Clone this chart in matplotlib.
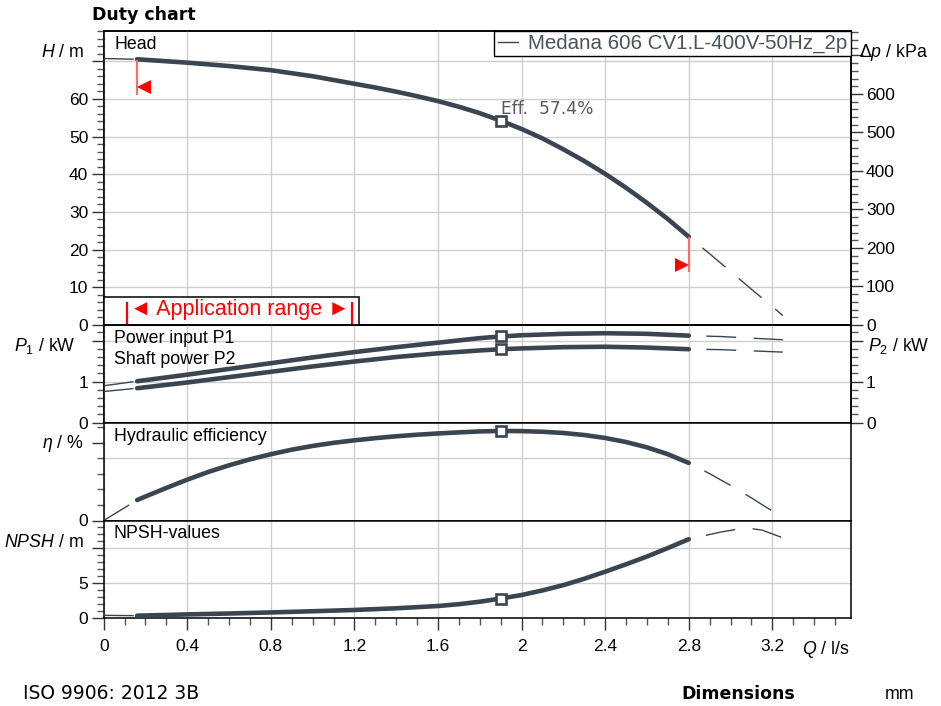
import matplotlib
matplotlib.use('Agg')
import matplotlib.pyplot as plt
from matplotlib.lines import Line2D
from matplotlib.patches import Rectangle
from matplotlib.ticker import MultipleLocator, FixedLocator, FuncFormatter
from matplotlib.transforms import Affine2D, offset_copy

plt.rcParams['font.family'] = ['Liberation Sans', 'DejaVu Sans']
plt.rcParams['font.size'] = 12.5
plt.rcParams['mathtext.fontset'] = 'custom'
plt.rcParams['mathtext.rm'] = 'Liberation Sans'
plt.rcParams['mathtext.it'] = 'Liberation Sans:italic'
plt.rcParams['mathtext.bf'] = 'Liberation Sans:bold'
plt.rcParams['lines.scale_dashes'] = False

# ---- data ----
q_head = [0.16, 0.4, 0.6, 0.8, 1.0, 1.2, 1.3, 1.4, 1.5, 1.6, 1.7, 1.8, 1.9,
          2.0, 2.1, 2.2, 2.3, 2.4, 2.5, 2.6, 2.7, 2.8]
head = [70.5, 69.6, 68.7, 67.6, 66.0, 64.0, 63.0, 61.9, 60.7, 59.4, 57.9, 56.2, 54.2,
        52.0, 49.5, 46.6, 43.5, 40.1, 36.4, 32.4, 28.1, 23.4]
q_head_lo, head_lo = [0, 0.16], [70.7, 70.5]
q_head_hi = [2.8, 2.9, 3.0, 3.1, 3.2, 3.25]
head_hi = [23.4, 18.9, 14.2, 9.5, 4.9, 2.5]

q_pow = [0.16, 0.4, 0.6, 0.8, 1.0, 1.2, 1.4, 1.6, 1.8, 1.9, 2.0, 2.2, 2.4, 2.6, 2.8]
p1 = [1.01, 1.17, 1.31, 1.45, 1.59, 1.72, 1.84, 1.95, 2.06, 2.10, 2.13, 2.165, 2.18, 2.165, 2.12]
p2 = [0.84, 0.98, 1.11, 1.24, 1.37, 1.49, 1.60, 1.69, 1.76, 1.79, 1.81, 1.84, 1.85, 1.83, 1.79]
q_pow_lo, p1_lo, p2_lo = [0, 0.16], [0.90, 1.01], [0.76, 0.84]
q_pow_hi = [2.8, 2.95, 3.1, 3.25]
p1_hi = [2.12, 2.10, 2.06, 2.02]
p2_hi = [1.79, 1.78, 1.75, 1.72]

q_eta = [0.16, 0.2, 0.3, 0.4, 0.5, 0.6, 0.7, 0.8, 0.9, 1.0, 1.1, 1.2, 1.3, 1.4, 1.5,
         1.6, 1.7, 1.8, 1.9, 2.0, 2.1, 2.2, 2.3, 2.4, 2.5, 2.6, 2.7, 2.8]
eta = [13.1, 15.4, 20.9, 26.2, 31.1, 35.4, 39.2, 42.5, 45.4, 47.8, 49.8, 51.4, 52.8, 54.0, 55.0,
       55.8, 56.5, 57.1, 57.4, 57.3, 56.9, 56.1, 54.8, 52.9, 50.3, 46.9, 42.5, 36.9]
q_eta_lo, eta_lo = [0, 0.16], [0, 13.1]
q_eta_hi = [2.8, 2.9, 3.0, 3.1, 3.2, 3.23]
eta_hi = [36.9, 30.0, 22.5, 14.5, 6.0, 3.3]

q_npsh = [0.16, 0.4, 0.6, 0.8, 1.0, 1.2, 1.4, 1.6, 1.7, 1.8, 1.9, 2.0, 2.1, 2.2,
          2.3, 2.4, 2.5, 2.6, 2.7, 2.8]
npsh = [0.37, 0.55, 0.68, 0.83, 1.0, 1.18, 1.42, 1.74, 2.0, 2.35, 2.8, 3.3, 3.95, 4.7,
        5.6, 6.6, 7.65, 8.75, 9.95, 11.2]
q_npsh_lo, npsh_lo = [0, 0.16], [0.42, 0.37]
q_npsh_hi = [2.8, 2.95, 3.07, 3.15, 3.25]
npsh_hi = [11.2, 12.2, 12.8, 12.5, 11.4]

q_bep = 1.9
eff_label = 'Eff.  57.4%'
q_app = [0.16, 2.8]
pump_name = 'Medana 606 CV1.L-400V-50Hz_2p'
kpa_per_m = 9.79

# ---- style ----
c_curve = '#3b4550'
c_grid = '#cfcfcf'
lw_main = 3.3
lw_thin = 1.0
dash_on, dash_off = 21.6, 12.6
ls_lo = (0, (dash_on, dash_off))
ls_hi = (dash_on, (dash_on, dash_off))

W, H = 941, 706
fig = plt.figure(figsize=(W / 100, H / 100), dpi=100)
px = Affine2D().scale(1 / W, -1 / H).translate(0, 1) + fig.transFigure

gs = fig.add_gridspec(4, 1, height_ratios=[294, 97.7, 97.8, 97.8], hspace=0,
                      left=103.7 / W, right=850.7 / W,
                      top=1 - 31 / H, bottom=1 - 618.3 / H)
ax_h = fig.add_subplot(gs[0])
ax_p = fig.add_subplot(gs[1], sharex=ax_h)
ax_e = fig.add_subplot(gs[2], sharex=ax_h)
ax_n = fig.add_subplot(gs[3], sharex=ax_h)
axes = [ax_h, ax_p, ax_e, ax_n]

ax_h.set_xlim(0, 3.575)
ax_h.set_ylim(0, 78)
ax_p.set_ylim(0, 2.38)
ax_e.set_ylim(0, 62.7)
ax_n.set_ylim(0, 13.85)


def fmt_skip(top):
    return FuncFormatter(lambda v, _: '' if v >= top - 1e-9 else f'{v:g}')


def style_y(ax, major, minor, skip):
    ax.yaxis.set_major_locator(major)
    ax.yaxis.set_minor_locator(minor)
    ax.yaxis.set_major_formatter(fmt_skip(skip))
    ax.tick_params(axis='y', which='major', direction='out', length=8.6, width=1,
                   color='#333333', labelsize=12.5, pad=2.5)
    ax.tick_params(axis='y', which='minor', direction='out', length=5, width=1,
                   color='#555555')


style_y(ax_h, MultipleLocator(10), MultipleLocator(2), 70)
style_y(ax_p, MultipleLocator(1), MultipleLocator(0.2), 2)
style_y(ax_e, FixedLocator([0, 50]), MultipleLocator(10), 50)
style_y(ax_n, MultipleLocator(5), MultipleLocator(1), 10)

ax_h2 = ax_h.twinx()
ax_h2.set_ylim(0, 78 * kpa_per_m)
style_y(ax_h2, MultipleLocator(100), MultipleLocator(20), 700)
ax_p2 = ax_p.twinx()
ax_p2.set_ylim(0, 2.38)
style_y(ax_p2, MultipleLocator(1), MultipleLocator(0.2), 2)

for ax in axes + [ax_h2, ax_p2]:
    for sp in ax.spines.values():
        sp.set_linewidth(1.1)
        sp.set_color('black')

for ax in axes[:-1]:
    ax.tick_params(axis='x', which='both', bottom=False, labelbottom=False)
ax_n.xaxis.set_major_locator(MultipleLocator(0.4))
ax_n.xaxis.set_minor_locator(MultipleLocator(0.1))
ax_n.xaxis.set_major_formatter(FuncFormatter(lambda v, _: f'{v:g}'))
ax_n.tick_params(axis='x', which='major', direction='out', length=8.6, width=1,
                 color='#333333', labelsize=12.5, pad=6)
ax_n.tick_params(axis='x', which='minor', direction='out', length=5, width=1,
                 color='#555555')

# grid
for ax in axes:
    ax.grid(axis='x', which='major', color=c_grid, lw=1.0, zorder=0)
    ax.set_axisbelow(True)
for v in [10, 20, 30, 40, 50, 60, 70]:
    ax_h.axhline(v, color=c_grid, lw=1.0, zorder=0.5)
for v in [1, 2]:
    ax_p.axhline(v, color=c_grid, lw=1.0, zorder=0.5)
for v in [40]:
    ax_e.axhline(v, color=c_grid, lw=1.0, zorder=0.5)
for v in [5, 10]:
    ax_n.axhline(v, color=c_grid, lw=1.0, zorder=0.5)


def draw_curve(ax, q, y, q_lo, y_lo, q_hi, y_hi):
    ax.plot(q, y, color=c_curve, lw=lw_main, solid_capstyle='round',
            solid_joinstyle='round', zorder=3)
    ax.plot(q_lo, y_lo, color=c_curve, lw=lw_thin, ls=ls_lo, zorder=3)
    ax.plot(q_hi, y_hi, color=c_curve, lw=lw_thin, ls=ls_hi, zorder=3)
    yb = y[q.index(q_bep)]
    ax.plot([q_bep], [yb], marker='s', ms=6.6, mew=1.9, mfc='white',
            mec=c_curve, zorder=5)
    return yb


h_bep = draw_curve(ax_h, q_head, head, q_head_lo, head_lo, q_head_hi, head_hi)
draw_curve(ax_p, q_pow, p1, q_pow_lo, p1_lo, q_pow_hi, p1_hi)
draw_curve(ax_p, q_pow, p2, q_pow_lo, p2_lo, q_pow_hi, p2_hi)
draw_curve(ax_e, q_eta, eta, q_eta_lo, eta_lo, q_eta_hi, eta_hi)
draw_curve(ax_n, q_npsh, npsh, q_npsh_lo, npsh_lo, q_npsh_hi, npsh_hi)

ax_h.annotate(eff_label, xy=(q_bep, h_bep), xytext=(0.5, 4.5),
              textcoords='offset points', ha='left', va='baseline',
              fontsize=12.3, color='#555b62', family='DejaVu Sans', zorder=6)

# application range limits on the head curve
for q, side in zip(q_app, ['<', '>']):
    hq = head[q_head.index(q)]
    tr_line = offset_copy(ax_h.transData, fig=fig, x=0, y=-17.5, units='dots')
    ax_h.plot([q], [hq], marker='|', ms=25.2, mew=1.5, color='#ff6a6a',
              transform=tr_line, zorder=4)
    dx = 7 if side == '<' else -7
    tr_tri = offset_copy(ax_h.transData, fig=fig, x=dx, y=-28, units='dots')
    ax_h.plot([q], [hq], marker=side, ms=10, color='#ff0000', mew=0,
              transform=tr_tri, zorder=4)

# application range box
box = Rectangle((103.7, 296.7), 255.3, 28.3, transform=px, facecolor='white',
                edgecolor='black', lw=1.1, zorder=4, clip_on=False)
ax_h.add_patch(box)
for xb in [126.7, 352.3]:
    ax_h.add_line(Line2D([xb, xb], [303, 323.5], transform=px, color='#ff0000',
                         lw=1.6, zorder=5, clip_on=False))
fig.text(239.5, 315.5, '\u25c4 Application range \u25ba', transform=px,
         ha='center', va='baseline', fontsize=15.5, color='#ff0000', zorder=6)

# legend
leg = ax_h.legend(handles=[Line2D([], [], color=c_curve, lw=1.0)], labels=[pump_name],
                  loc='upper right', frameon=True, fancybox=False, edgecolor='black',
                  framealpha=1, borderaxespad=0, handlelength=1.0, handletextpad=0.5,
                  borderpad=0.15, fontsize=14.8, labelcolor='#4a525a')
leg.get_frame().set_linewidth(1.0)
leg.set_zorder(10)
ax_h2.set_zorder(ax_h.get_zorder() - 1)
ax_h.patch.set_visible(False)
ax_h2.patch.set_visible(True)
ax_h2.patch.set_facecolor('white')
ax_p2.set_zorder(ax_p.get_zorder() - 1)
ax_p.patch.set_visible(False)

# panel titles
fig.text(115, 49.3, 'Head', transform=px, va='baseline', fontsize=12.8)
fig.text(114, 342.7, 'Power input P1', transform=px, va='baseline', fontsize=12.8)
fig.text(114, 364, 'Shaft power P2', transform=px, va='baseline', fontsize=12.8)
fig.text(114, 441, 'Hydraulic efficiency', transform=px, va='baseline', fontsize=12.8)
fig.text(114, 537.7, 'NPSH-values', transform=px, va='baseline', fontsize=12.8)

# axis labels
fig.text(84, 57, r'$H$ / m', transform=px, ha='right', va='baseline', fontsize=12.8)
fig.text(859, 57, r'$\Delta p$ / kPa', transform=px, ha='left', va='baseline', fontsize=12.8)
fig.text(76, 350.5, r'$P_{\mathrm{1}}$ / kW', transform=px, ha='right', va='baseline', fontsize=12.8)
fig.text(868, 350.5, r'$P_{\mathrm{2}}$ / kW', transform=px, ha='left', va='baseline', fontsize=12.8)
fig.text(84, 448, r'$\eta$ / %', transform=px, ha='right', va='baseline', fontsize=12.8)
fig.text(84, 547, r'$NPSH$ / m', transform=px, ha='right', va='baseline', fontsize=12.8)
fig.text(850, 654, r'$Q$ / l/s', transform=px, ha='right', va='baseline', fontsize=12.8)

# header and footer
fig.text(91.7, 20, 'Duty chart', transform=px, va='baseline', fontsize=12.5,
         fontweight='bold', family='DejaVu Sans')
fig.text(23, 699.3, 'ISO 9906: 2012 3B', transform=px, va='baseline', fontsize=13.5,
         family='DejaVu Sans')
fig.text(681.7, 699.3, 'Dimensions', transform=px, va='baseline', fontsize=12.5,
         fontweight='bold', family='DejaVu Sans')
fig.text(885, 699.3, 'mm', transform=px, va='baseline', fontsize=12.8)

fig.savefig('out.png', dpi=100)
